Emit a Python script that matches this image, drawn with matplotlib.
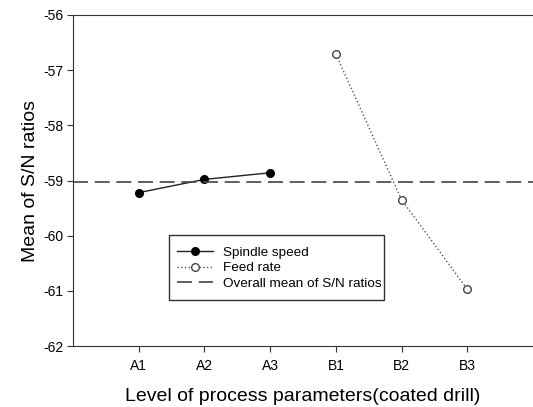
import matplotlib
matplotlib.use("Agg")
import matplotlib.pyplot as plt
from matplotlib.patches import Rectangle

plt.rcParams['font.family'] = ['Liberation Sans', 'DejaVu Sans']

categories = ["A1", "A2", "A3", "B1", "B2", "B3"]
spindle_speed = [-59.22, -58.98, -58.86]
feed_rate = [-56.71, -59.35, -60.97]
overall_mean = -59.03
yticks = [-56, -57, -58, -59, -60, -61, -62]

W, H = 533, 407
left, top, bottom = 73, 15, 346
fig = plt.figure(figsize=(W/100, H/100), dpi=100)
ax = fig.add_axes([left/W, 1-bottom/H, 1-left/W, (bottom-top)/H])

xs_a = [1, 2, 3]
xs_b = [4, 5, 6]
ax.plot(xs_a, spindle_speed, '-', color='#222222', lw=1.0, marker='o', ms=5.5,
        mfc='black', mec='black', label='Spindle speed')
ax.plot(xs_b, feed_rate, ':', color='#555555', lw=1.0, marker='o', ms=5.5,
        mfc='white', mec='#444444', label='Feed rate')
ax.axhline(overall_mean, color='#444444', lw=1.2, dashes=(9, 4),
           label='Overall mean of S/N ratios')

ax.set_xlim(0, 7)
ax.set_ylim(-62, -56)
ax.set_yticks(yticks)
ax.set_yticklabels([str(t) for t in yticks])
ax.set_xticks(range(1, 7))
ax.set_xticklabels(categories)
ax.tick_params(direction='out', length=4, labelsize=10, color='#333333')
ax.tick_params(axis='x', pad=5)
ax.tick_params(axis='y', pad=3)
ax.spines['right'].set_visible(False)
for s in ['left', 'top', 'bottom']:
    ax.spines[s].set_color('#333333')

ax.set_xlabel('Level of process parameters(coated drill)', fontsize=14, labelpad=11)
ax.set_ylabel('Mean of S/N ratios', fontsize=14, labelpad=3)

# legend box (pixel coordinates from top-left)
box_l, box_t, box_r, box_b = 169, 235, 384, 300
frame = Rectangle((box_l/W, 1-box_b/H), (box_r-box_l)/W, (box_b-box_t)/H,
                  transform=fig.transFigure, facecolor='white',
                  edgecolor='#333333', lw=1.0, zorder=4, clip_on=False)
ax.add_patch(frame)

handle_x, first_row_y = 177, 252.7
def anchor(xp, yp):
    return ((xp-left)/(W-left), (bottom-yp)/(bottom-top))

leg = ax.legend(loc='upper left', bbox_to_anchor=anchor(handle_x, first_row_y-5),
                borderaxespad=0, borderpad=0, frameon=False,
                fontsize=9.7, handlelength=2.7, labelspacing=0.24,
                handletextpad=0.7)
leg.set_zorder(6)

fig.canvas.draw()
bb = leg.get_texts()[0].get_window_extent()
cy = H - (bb.y0 + bb.y1)/2
shift = first_row_y - cy
leg.set_bbox_to_anchor(anchor(handle_x, first_row_y-5+shift), transform=ax.transAxes)

fig.savefig('out.png', dpi=100)
